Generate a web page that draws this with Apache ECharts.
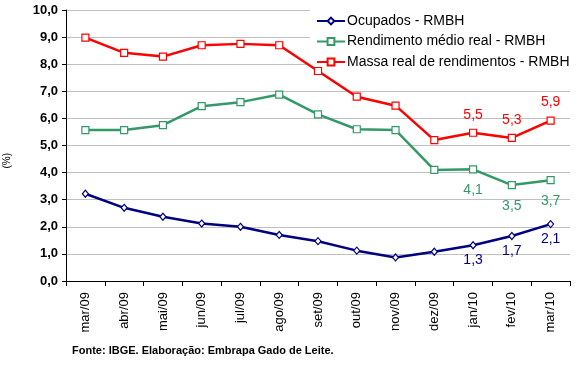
<!DOCTYPE html>
<html><head><meta charset="utf-8">
<script src="https://cdn.jsdelivr.net/npm/echarts@6/dist/echarts.min.js"></script>
<style>html,body{margin:0;padding:0;background:#fff}#c{width:577px;height:365px}</style>
</head><body><div id="c"></div>
<script>
var categories = ['mar/09','abr/09','mai/09','jun/09','jul/09','ago/09','set/09','out/09','nov/09','dez/09','jan/10','fev/10','mar/10'];
var ocupados   = [3.22, 2.70, 2.37, 2.12, 2.00, 1.70, 1.47, 1.12, 0.87, 1.08, 1.32, 1.66, 2.10];
var rendimento = [5.57, 5.57, 5.75, 6.45, 6.60, 6.88, 6.15, 5.60, 5.57, 4.10, 4.12, 3.54, 3.72];
var massa      = [8.98, 8.42, 8.28, 8.70, 8.75, 8.70, 7.75, 6.80, 6.47, 5.20, 5.47, 5.28, 5.92];
var yTicks = [0,1,2,3,4,5,6,7,8,9,10];
var labeledFrom = 10;
var names = ['Ocupados - RMBH','Rendimento médio real - RMBH','Massa real de rendimentos - RMBH'];

function fmt(v){ return v.toFixed(1).replace('.', ','); }
function withLabels(arr, pos, color, dist){
  return arr.map(function(v,i){
    if(i>=labeledFrom){
      return {value:v, label:{show:true, position:pos, distance:dist, color:color, fontSize:14,
        fontFamily:'Liberation Sans, Arial', formatter:function(p){return fmt(p.value);}}};
    }
    return v;
  });
}
var chart = echarts.init(document.getElementById('c'), null, {renderer:'canvas'});
chart.setOption({
  animation:false,
  backgroundColor:'#fff',
  grid:{left:66, right:7, top:10, bottom:84, containLabel:false},
  legend:{
    orient:'vertical', left:310, top:7, itemGap:6.5, itemWidth:28, itemHeight:8.5, z:1,
    backgroundColor:'#fff', padding:[7,3,1,6],
    lineStyle:{width:2},
    textStyle:{fontSize:14, lineHeight:14, color:'#000', fontFamily:'Liberation Sans, Arial', padding:[0,0,0,-3]},
    data:names
  },
  xAxis:{
    type:'category', data:categories, boundaryGap:true,
    axisLine:{lineStyle:{color:'#000', width:1}},
    axisTick:{show:true, length:5, lineStyle:{color:'#000'}},
    axisLabel:{rotate:90, fontSize:13, color:'#000', fontFamily:'Liberation Sans, Arial', margin:11, interval:0}
  },
  yAxis:{
    type:'value', min:0, max:10, interval:1,
    axisLine:{show:true, lineStyle:{color:'#000', width:1}},
    axisTick:{show:true, length:4, lineStyle:{color:'#000'}},
    splitLine:{lineStyle:{color:'#c0c0c0', width:1}},
    axisLabel:{fontSize:13, fontWeight:'bold', color:'#000', fontFamily:'Liberation Sans, Arial', margin:8,
      formatter:function(v){return fmt(v);}}
  },
  series:[
    {name:names[0], type:'line', data:withLabels(ocupados,'bottom','#000080',4),
     symbol:'diamond', symbolSize:[6,7], showAllSymbol:true,
     lineStyle:{color:'#000080', width:2.5}, itemStyle:{color:'#fff', borderColor:'#000080', borderWidth:1.2}, z:3},
    {name:names[1], type:'line', data:withLabels(rendimento,'bottom','#339966',10),
     symbol:'rect', symbolSize:7, showAllSymbol:true,
     lineStyle:{color:'#339966', width:2.5}, itemStyle:{color:'#fff', borderColor:'#339966', borderWidth:1.2}, z:2},
    {name:names[2], type:'line', data:withLabels(massa,'top','#ff0000',7),
     symbol:'rect', symbolSize:7, showAllSymbol:true,
     lineStyle:{color:'#ff0000', width:2.5}, itemStyle:{color:'#fff', borderColor:'#ff0000', borderWidth:1.2}, z:2}
  ],
  graphic:[
    {type:'text', left:2, top:153, rotation:Math.PI/2,
     style:{text:'(%)', fontSize:10, fill:'#000', fontFamily:'Liberation Sans, Arial'}},
    {type:'text', left:72, top:345,
     style:{text:'Fonte: IBGE. Elaboração: Embrapa Gado de Leite.', fontSize:11, fontWeight:'bold', fill:'#000', fontFamily:'Liberation Sans, Arial'}}
  ]
});
</script></body></html>
